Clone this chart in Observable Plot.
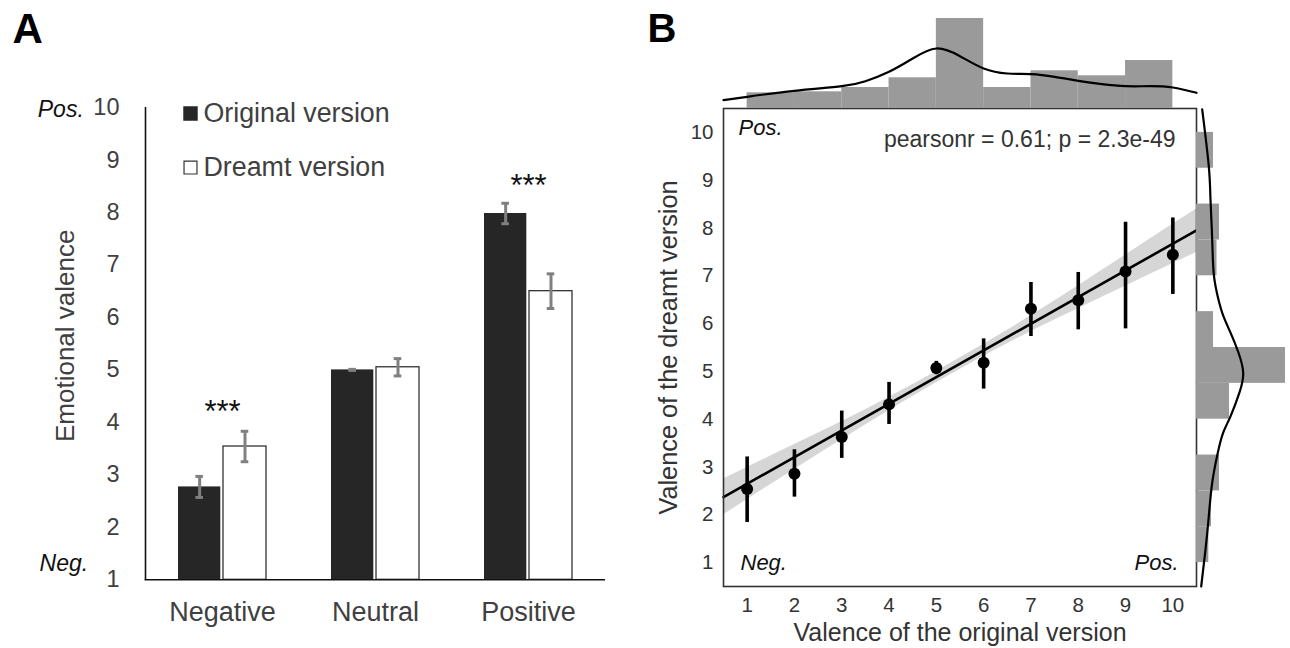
<!DOCTYPE html>
<html><head><meta charset="utf-8">
<script src="https://cdn.jsdelivr.net/npm/d3@7"></script>
<script src="https://cdn.jsdelivr.net/npm/@observablehq/plot@0.6"></script>
<style>
body{margin:0;background:#fff;}
#fig{position:relative;width:1290px;height:648px;overflow:hidden;background:#fff;}
#fig > div{position:absolute;}
#fig svg{overflow:visible;max-width:none;}
</style></head><body><div id="fig"></div>
<script>
// ---------- Panel A data ----------
const categories = ["Negative", "Neutral", "Positive"];
const versions = ["Original version", "Dreamt version"];
const originalMeans = [2.77, 5.00, 7.98];
const originalSem = [0.20, 0.01, 0.195];
const dreamtMeans = [3.54, 5.05, 6.50];
const dreamtSem = [0.29, 0.165, 0.33];
const yTicksA = [1, 2, 3, 4, 5, 6, 7, 8, 9, 10];
const starCategories = ["Negative", "Positive"];
const starLevels = [4.2, 8.5];

// ---------- Panel B data ----------
const originalValence = [1, 2, 3, 4, 5, 6, 7, 8, 9, 10];
const dreamtMean = [2.54, 2.86, 3.63, 4.31, 5.07, 5.18, 6.31, 6.49, 7.09, 7.44];
const dreamtLow  = [1.84, 2.37, 3.18, 3.89, 4.93, 4.63, 5.73, 5.87, 5.89, 6.61];
const dreamtHigh = [3.21, 3.36, 4.17, 4.77, 5.21, 5.68, 6.86, 7.07, 8.12, 8.21];
const fitX = [0.5, 10.5];
const fitY = [2.37, 7.95];
const bandX    = [0.5, 2, 3.5, 5, 6.5, 8, 9.5, 10.5];
const bandLow  = [2.00, 2.95, 3.88, 4.76, 5.58, 6.31, 7.02, 7.49];
const bandHigh = [2.75, 3.47, 4.20, 5.00, 5.86, 6.79, 7.76, 8.40];
const ticksB = [1, 2, 3, 4, 5, 6, 7, 8, 9, 10];
const statText = "pearsonr = 0.61; p = 2.3e-49";

// marginal histogram of the original version (bin edges, heights)
const topBinLo = [1, 2, 3, 4, 5, 6, 7, 8, 9];
const topBinHi = [2, 3, 4, 5, 6, 7, 8, 9, 10];
const topBinH  = [15.7, 16.7, 21, 30.7, 90, 21, 37.7, 32.7, 48];
const topKdeX = [0.5, 1, 2, 3, 3.5, 4, 4.5, 5, 5.5, 6, 6.5, 7, 7.5, 8, 8.5, 9, 9.5, 10, 10.5];
const topKdeY = [8.3, 11.7, 17.7, 22.3, 27.3, 36.7, 50, 60, 52.3, 40, 35, 34.3, 31.7, 27.7, 24.3, 22.3, 22.3, 21, 15.7];

// marginal histogram of the dreamt version
const rightBinLo = [1, 1.75, 2.5, 3.25, 4, 4.75, 5.5, 6.25, 7, 7.75, 8.5, 9.25];
const rightBinHi = [1.75, 2.5, 3.25, 4, 4.75, 5.5, 6.25, 7, 7.75, 8.5, 9.25, 10];
const rightBinW  = [12.3, 15, 23, 0, 33, 89, 17, 0, 20.5, 23, 0, 17];
const rightKdeY = [10.48, 9.29, 8.59, 7.76, 7.03, 6.5, 6.15, 5.81, 5.39, 4.97, 4.56, 4.06, 3.72, 3.3, 2.67, 1.97, 1.27, 0.5];
const rightKdeX = [5.7, 12.3, 14, 15.7, 17.3, 22, 27, 34, 42, 46.7, 43, 34, 26.7, 21.3, 15.7, 12.3, 9, 4.7];

const FONT = '"Liberation Sans", Arial, Helvetica, sans-serif';
const fig = document.getElementById("fig");
function place(node, left, top, w, h) {
  const d = document.createElement("div");
  d.style.left = left + "px"; d.style.top = top + "px";
  d.style.width = w + "px"; d.style.height = h + "px";
  d.appendChild(node); fig.appendChild(d);
}

// ---------- Panel A ----------
const orig = categories.map((c, i) => ({category: c, mean: originalMeans[i], lo: originalMeans[i] - originalSem[i], hi: originalMeans[i] + originalSem[i]}));
const dream = categories.map((c, i) => ({category: c, mean: dreamtMeans[i], lo: dreamtMeans[i] - dreamtSem[i], hi: dreamtMeans[i] + dreamtSem[i]}));
const stars = starCategories.map((c, i) => ({category: c, level: starLevels[i]}));
const errColor = "#808080";
const txtA = "#404040";

const plotA = Plot.plot({
  width: 620, height: 648,
  marginLeft: 144.5, marginRight: 15, marginTop: 107, marginBottom: 68.7,
  style: {fontFamily: FONT, background: "transparent", overflow: "visible"},
  x: {domain: categories, range: [177.3, 572.5], paddingInner: 0.424, paddingOuter: 0, align: 0.5},
  y: {domain: [1, 10]},
  marks: [
    Plot.barY(orig, {x: "category", y1: 1, y2: "mean", fill: "#262626", insetRight: 45.7}),
    Plot.barY(dream, {x: "category", y1: 1, y2: "mean", fill: "#fff", stroke: "#333", strokeWidth: 1.3, insetLeft: 45}),
    Plot.ruleX(orig, {x: "category", y1: "lo", y2: "hi", stroke: errColor, strokeWidth: 3, dx: -22.85}),
    Plot.ruleX(dream, {x: "category", y1: "lo", y2: "hi", stroke: errColor, strokeWidth: 3, dx: 22.5}),
    Plot.tickY(orig, {x: "category", y: "lo", stroke: errColor, strokeWidth: 3, insetLeft: 17.35, insetRight: 63.05}),
    Plot.tickY(orig, {x: "category", y: "hi", stroke: errColor, strokeWidth: 3, insetLeft: 17.35, insetRight: 63.05}),
    Plot.tickY(dream, {x: "category", y: "lo", stroke: errColor, strokeWidth: 3, insetLeft: 62.7, insetRight: 17.7}),
    Plot.tickY(dream, {x: "category", y: "hi", stroke: errColor, strokeWidth: 3, insetLeft: 62.7, insetRight: 17.7}),
    Plot.ruleY([1], {stroke: "#111", strokeWidth: 1.6}),
    Plot.ruleX([categories[0]], {y1: 1, y2: 10, dx: -77, stroke: "#111", strokeWidth: 1.6}),
    Plot.axisY({ticks: yTicksA, tickSize: 0, tickPadding: 25.5, fontSize: 23.5, fill: txtA, label: null}),
    Plot.axisX({tickSize: 0, tickPadding: 22, fontSize: 27, fill: txtA, label: null}),
    Plot.text(stars, {x: "category", y: "level", text: () => "***", fontSize: 31, fill: "#111"}),
    // legend
    Plot.dot([versions[0]], {frameAnchor: "left", y: 9.885, dx: 45.5, symbol: "square", r: 7.3, fill: "#262626", stroke: "#262626"}),
    Plot.dot([versions[1]], {frameAnchor: "left", y: 8.856, dx: 45.5, symbol: "square", r: 7.3, fill: "#fff", stroke: "#333", strokeWidth: 1.2}),
    Plot.text(versions, {frameAnchor: "left", y: (d, i) => i === 0 ? 9.885 : 8.856, dx: 58.5, textAnchor: "start", fontSize: 26.8, fill: txtA}),
    Plot.text(["Emotional valence"], {frameAnchor: "left", y: 5.65, dx: -79.5, rotate: -90, textAnchor: "middle", fontSize: 26, fill: txtA}),
    Plot.text(["Pos."], {frameAnchor: "left", y: 9.96, dx: -61.2, textAnchor: "end", fontSize: 23, fontStyle: "italic", fill: "#111"}),
    Plot.text(["Neg."], {frameAnchor: "left", y: 1.31, dx: -56.8, textAnchor: "end", fontSize: 23, fontStyle: "italic", fill: "#111"}),
    Plot.text(["A"], {frameAnchor: "top-left", dx: -132.5, dy: -94, fontSize: 42, fontWeight: "bold", fill: "#000"})
  ]
});
place(plotA, 0, 0, 620, 648);

// ---------- Panel B main ----------
const pts = originalValence.map((x, i) => ({x, y: dreamtMean[i], lo: dreamtLow[i], hi: dreamtHigh[i]}));
const fitLine = fitX.map((x, i) => ({x, y: fitY[i]}));
const band = bandX.map((x, i) => ({x, lo: bandLow[i], hi: bandHigh[i]}));
const txtB = "#333";

const plotB = Plot.plot({
  width: 580, height: 648,
  marginLeft: 103, marginRight: 4, marginTop: 108, marginBottom: 62,
  style: {fontFamily: FONT, background: "transparent", overflow: "visible"},
  x: {domain: [0.5, 10.5]},
  y: {domain: [0.5, 10.5]},
  marks: [
    Plot.areaY(band, {x: "x", y1: "lo", y2: "hi", fill: "#d6d6d6", curve: "natural"}),
    Plot.line(fitLine, {x: "x", y: "y", stroke: "#000", strokeWidth: 2.6}),
    Plot.ruleX(pts, {x: "x", y1: "lo", y2: "hi", stroke: "#000", strokeWidth: 3.6}),
    Plot.dot(pts, {x: "x", y: "y", r: 6, fill: "#000"}),
    Plot.frame({stroke: "#333", strokeWidth: 1.6}),
    Plot.axisX({ticks: ticksB, tickSize: 0, tickPadding: 11, fontSize: 20.5, fill: txtB, label: null}),
    Plot.axisY({ticks: ticksB, tickSize: 0, tickPadding: 10, fontSize: 20.5, fill: txtB, label: null}),
    Plot.text(["Valence of the original version"], {frameAnchor: "bottom", dy: 46, lineAnchor: "middle", fontSize: 25, fill: txtB}),
    Plot.text(["Valence of the dreamt version"], {frameAnchor: "left", dx: -55, rotate: -90, textAnchor: "middle", fontSize: 25.3, fill: txtB}),
    Plot.text(["Pos."], {frameAnchor: "left", y: 10.1, dx: 15, textAnchor: "start", fontSize: 22, fontStyle: "italic", fill: "#111"}),
    Plot.text(["Neg."], {frameAnchor: "left", y: 1.0, dx: 17, textAnchor: "start", fontSize: 22, fontStyle: "italic", fill: "#111"}),
    Plot.text(["Pos."], {frameAnchor: "right", y: 1.0, dx: -18, textAnchor: "end", fontSize: 22, fontStyle: "italic", fill: "#111"}),
    Plot.text([statText], {frameAnchor: "right", y: 9.85, dx: -21, textAnchor: "end", fontSize: 23, fill: txtB}),
    Plot.text(["B"], {frameAnchor: "top-left", dx: -76, dy: -95, fontSize: 40, fontWeight: "bold", fill: "#000"})
  ]
});
place(plotB, 620, 0, 580, 648);

// ---------- Panel B top marginal ----------
const topHist = topBinLo.map((a, i) => ({x1: a, x2: topBinHi[i], h: topBinH[i]}));
const topKde = topKdeX.map((x, i) => ({x, h: topKdeY[i]}));
const plotTop = Plot.plot({
  width: 580, height: 108,
  marginLeft: 103, marginRight: 4, marginTop: 0, marginBottom: 0,
  style: {background: "transparent", overflow: "visible"},
  x: {domain: [0.5, 10.5], axis: null},
  y: {domain: [0, 108], axis: null},
  marks: [
    Plot.rectY(topHist, {x1: "x1", x2: "x2", y: "h", fill: "#9a9a9a"}),
    Plot.line(topKde, {x: "x", y: "h", curve: "natural", stroke: "#000", strokeWidth: 2.2})
  ]
});
place(plotTop, 620, 0, 580, 108);

// ---------- Panel B right marginal ----------
const rightHist = rightBinLo.map((a, i) => ({y1: a, y2: rightBinHi[i], w: rightBinW[i]})).filter(d => d.w > 0);
const rightKde = rightKdeY.map((y, i) => ({y, w: rightKdeX[i]}));
const plotRight = Plot.plot({
  width: 94, height: 648,
  marginLeft: 0, marginRight: 0, marginTop: 108, marginBottom: 62,
  style: {background: "transparent", overflow: "visible"},
  x: {domain: [0, 94], axis: null},
  y: {domain: [0.5, 10.5], axis: null},
  marks: [
    Plot.rectX(rightHist, {y1: "y1", y2: "y2", x: "w", fill: "#9a9a9a"}),
    Plot.line(rightKde, {x: "w", y: "y", curve: "natural", stroke: "#000", strokeWidth: 2.2})
  ]
});
place(plotRight, 1196, 0, 94, 648);
</script></body></html>
